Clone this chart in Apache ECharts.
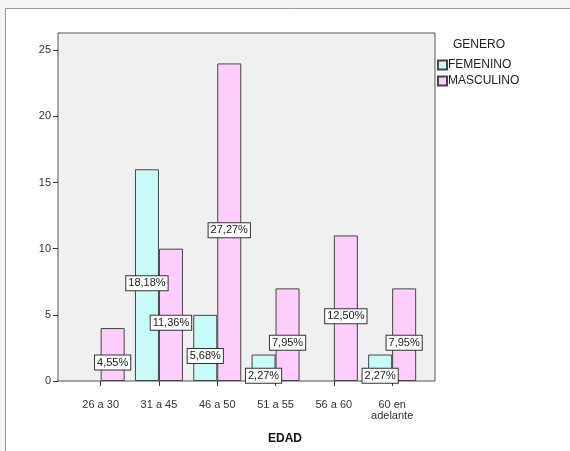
<!DOCTYPE html>
<html>
<head>
<meta charset="utf-8">
<script src="https://cdn.jsdelivr.net/npm/echarts@6/dist/echarts.min.js"></script>
<style>html,body{margin:0;padding:0;background:#f5f4f2;}#c{width:570px;height:451px;}</style>
</head>
<body>
<div id="c"></div>
<script>
const categories = ['26 a 30', '31 a 45', '46 a 50', '51 a 55', '56 a 60', '60 en\nadelante'];
const femenino = [0, 16, 5, 2, 0, 2];
const masculino = [4, 10, 24, 7, 11, 7];
const femeninoPct = ['', '18,18%', '5,68%', '2,27%', '', '2,27%'];
const masculinoPct = ['4,55%', '11,36%', '27,27%', '7,95%', '12,50%', '7,95%'];
const yTicks = [0, 5, 10, 15, 20, 25];

const FONT = 'Liberation Sans, Arial, sans-serif';
const chart = echarts.init(document.getElementById('c'), null, {renderer: 'canvas'});
const labelStyle = (arr) => ({
  show: true,
  position: 'inside',
  offset: [0, 8],
  formatter: p => arr[p.dataIndex],
  color: '#222',
  fontFamily: FONT,
  fontSize: 11,
  backgroundColor: '#fff',
  borderColor: '#333',
  borderWidth: 1,
  padding: [2, 2, 1, 2]
});
const buildData = (vals, pcts) => vals.map((v, i) => ({
  value: v,
  itemStyle: v === 0 ? {borderWidth: 0, opacity: 0} : {},
  label: {show: pcts[i] !== ''}
}));
chart.setOption({
  animation: false,
  backgroundColor: 'transparent',
  graphic: [{
    type: 'rect', z: -10,
    shape: {x: 5.5, y: 8.5, width: 600, height: 500},
    style: {fill: '#ffffff', stroke: '#9a9a9a', lineWidth: 1}
  }],
  title: [{
    text: 'GENERO', left: 448, top: 34,
    textStyle: {fontFamily: FONT, fontSize: 12, fontWeight: 'normal', color: '#222'}
  }, {
    text: 'EDAD', left: 'center', top: 428,
    textStyle: {fontFamily: FONT, fontSize: 12, fontWeight: 'bold', color: '#111'}
  }],
  legend: {
    orient: 'vertical', left: 437, top: 59, padding: 0,
    itemWidth: 9, itemHeight: 9, itemGap: 4,
    icon: 'rect',
    textStyle: {fontFamily: FONT, fontSize: 12, color: '#222', padding: [0, 0, 0, -4]},
    data: ['FEMENINO', 'MASCULINO']
  },
  grid: [
    {left: 58, right: 135, top: 33, bottom: 70, show: true, backgroundColor: '#f0f0f0', borderColor: '#555', borderWidth: 1, z: 0},
    {left: 71.5, right: 148.7, top: 33, bottom: 70}
  ],
  xAxis: [
    {gridIndex: 0, type: 'value', show: false, min: 0, max: 1},
    {gridIndex: 1, type: 'category', data: categories,
     axisLine: {show: false},
     axisTick: {show: true, alignWithLabel: true, length: 5, lineStyle: {color: '#333'}},
     axisLabel: {margin: 18, fontFamily: FONT, fontSize: 11, color: '#333', lineHeight: 11, interval: 0},
     splitLine: {show: false}}
  ],
  yAxis: [
    {gridIndex: 0, type: 'value', show: false, min: 0, max: 1},
    {gridIndex: 1, type: 'value', min: 0, max: 26.3, interval: 5, offset: 13.5,
     axisLine: {show: false},
     axisTick: {show: true, length: 5, lineStyle: {color: '#333'}},
     axisLabel: {margin: 7, fontFamily: FONT, fontSize: 11, color: '#333',
       showMaxLabel: false,
       formatter: v => (yTicks.indexOf(v) >= 0 ? String(v) : '')},
     splitLine: {show: false}}
  ],
  series: [{
    name: 'FEMENINO', type: 'bar', xAxisIndex: 1, yAxisIndex: 1,
    data: buildData(femenino, femeninoPct), barWidth: 24, barGap: '0%',
    itemStyle: {color: '#c8fbf8', borderColor: '#444', borderWidth: 1},
    label: labelStyle(femeninoPct), z: 3
  }, {
    name: 'MASCULINO', type: 'bar', xAxisIndex: 1, yAxisIndex: 1,
    data: buildData(masculino, masculinoPct), barWidth: 24, barGap: '0%',
    itemStyle: {color: '#fdcdfb', borderColor: '#444', borderWidth: 1},
    label: labelStyle(masculinoPct), z: 3
  }]
});
</script>
</body>
</html>
